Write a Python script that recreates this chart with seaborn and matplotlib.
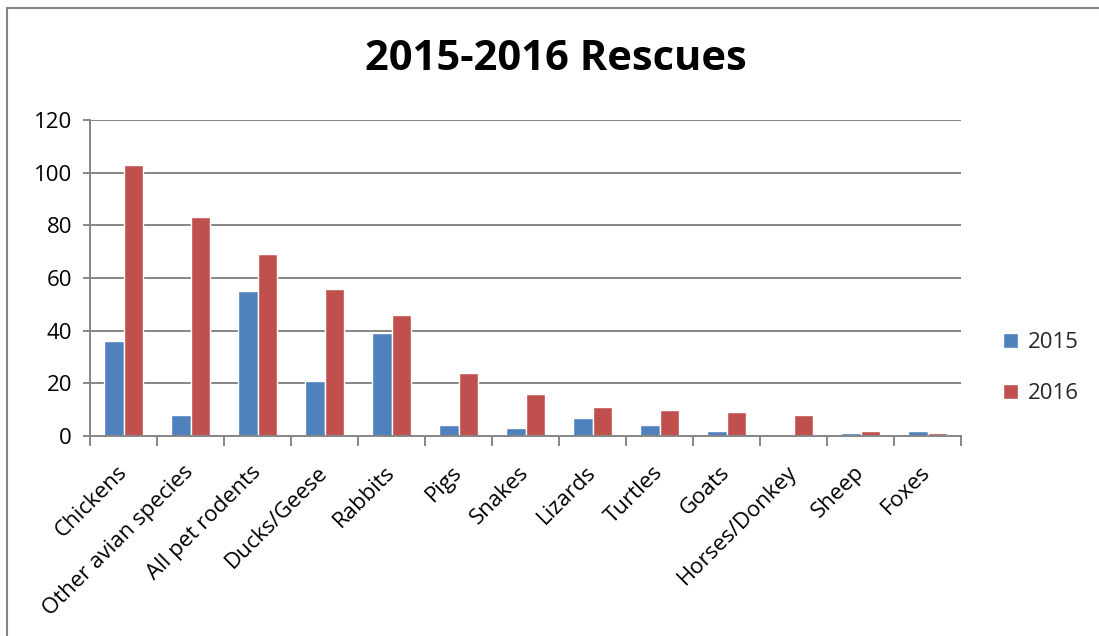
import matplotlib
matplotlib.use("Agg")
import matplotlib.pyplot as plt
import seaborn as sns
import pandas as pd
import numpy as np
from matplotlib.patches import Rectangle

categories = ["Chickens", "Other avian species", "All pet rodents", "Ducks/Geese",
              "Rabbits", "Pigs", "Snakes", "Lizards", "Turtles", "Goats",
              "Horses/Donkey", "Sheep", "Foxes"]
values_2015 = [36, 8, 55, 21, 39, 4, 3, 7, 4, 2, 0, 1, 2]
values_2016 = [103, 83, 69, 56, 46, 24, 16, 11, 10, 9, 8, 2, 1]
series = ["2015", "2016"]
yticks = [0, 20, 40, 60, 80, 100, 120]

df = pd.DataFrame({
    "Category": categories * 2,
    "Year": [series[0]] * len(categories) + [series[1]] * len(categories),
    "Count": values_2015 + values_2016,
})

sns.set_theme(style="white")
plt.rcParams["font.family"] = ["Open Sans", "DejaVu Sans"]

grid_col = "#868686"
fig = plt.figure(figsize=(10.99, 6.36), dpi=100)
ax = fig.add_axes([90 / 1099, 1 - 436 / 636, (961 - 90) / 1099, (436 - 120) / 636])

sns.barplot(data=df, x="Category", y="Count", hue="Year", order=categories,
            hue_order=series, palette=["#4F81BD", "#C0504D"], width=0.57,
            gap=0, ax=ax, legend=True, saturation=1)

ax.set_xlim(-0.5, len(categories) - 0.5)
ax.set_ylim(0, 120)
ax.set_yticks(yticks)
ax.set_yticklabels([str(v) for v in yticks], fontsize=16, color="black")
ax.yaxis.grid(True, color=grid_col, linewidth=1.4)
ax.set_axisbelow(True)
ax.set_xlabel("")
ax.set_ylabel("")

ax.set_xticks(range(len(categories)))
ax.set_xticklabels(categories, rotation=45, ha="right", va="center",
                   rotation_mode="anchor", fontsize=16, color="black")
ax.set_xticks(np.arange(-0.5, len(categories), 1.0), minor=True)
ax.tick_params(axis="x", which="major", length=0, pad=24)
ax.tick_params(axis="x", which="minor", length=7, width=1.4, color=grid_col, bottom=True)
ax.tick_params(axis="y", which="major", length=5, width=1.4, color=grid_col, left=True, pad=8)

for s in ["top", "right"]:
    ax.spines[s].set_visible(False)
for s in ["left", "bottom"]:
    ax.spines[s].set_color(grid_col)
    ax.spines[s].set_linewidth(1.4)

leg = ax.legend(loc="center left", bbox_to_anchor=(1.048, 0.215), frameon=False,
                fontsize=16, handlelength=0.7, handleheight=0.7,
                labelspacing=1.35, handletextpad=0.45, borderpad=0, borderaxespad=0)

fig.text(556 / 1099, 1 - 60 / 636, "2015-2016 Rescues", ha="center", va="center",
         fontsize=30, fontweight="bold", color="black")

fig.patches.append(Rectangle((7 / 1099, -0.1), 1.2, 1 - 8 / 636 + 0.1,
                             transform=fig.transFigure, fill=False,
                             edgecolor=grid_col, linewidth=1.5))

fig.savefig("out.png", dpi=100)
